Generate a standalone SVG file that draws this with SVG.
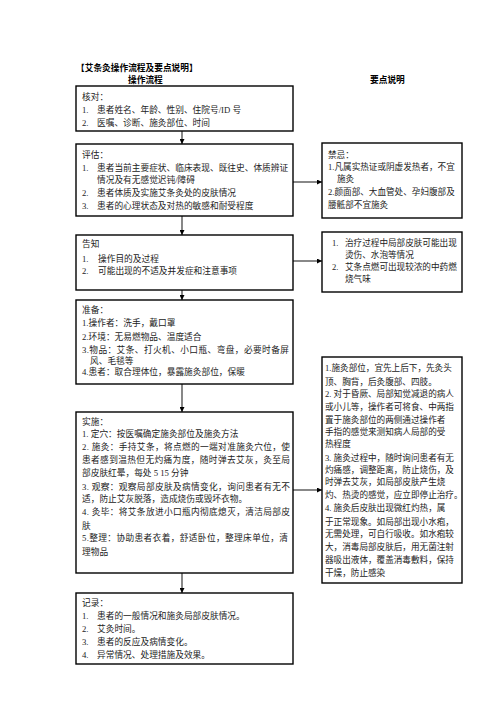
<svg xmlns="http://www.w3.org/2000/svg" width="496" height="702" viewBox="0 0 496 702">
<defs>
<style>
.t{font-family:"Liberation Serif","Noto Sans CJK SC",serif;font-size:8.7px;fill:#222}
.r{font-size:8.6px}
.b{font-weight:bold;fill:#000}
.box{fill:#fff;stroke:#000;stroke-width:1.4}
.c{stroke:#555;stroke-width:1.4;fill:none}
</style>
<marker id="ah" viewBox="0 0 6 6" refX="6" refY="3" markerWidth="5" markerHeight="5" orient="auto" markerUnits="userSpaceOnUse"><path d="M0,0 L6,3 L0,6 Z" fill="#000"/></marker>
</defs>
<rect width="496" height="702" fill="#fff"/>
<g id="header">
<text class="t b" x="76" y="71">【艾条灸操作流程及要点说明】</text>
<text class="t b" x="128" y="83">操作流程</text>
<text class="t b" x="370" y="83">要点说明</text>
</g>
<g id="connectors">
<line class="c" x1="182" y1="131" x2="182" y2="144" marker-end="url(#ah)"/>
<line class="c" x1="182" y1="216" x2="182" y2="235" marker-end="url(#ah)"/>
<line class="c" x1="182" y1="290" x2="182" y2="300" marker-end="url(#ah)"/>
<line class="c" x1="182" y1="384" x2="182" y2="412" marker-end="url(#ah)"/>
<line class="c" x1="182" y1="573" x2="182" y2="593" marker-end="url(#ah)"/>
<line class="c" x1="293" y1="182" x2="322" y2="182" marker-end="url(#ah)"/>
<line class="c" x1="293" y1="261" x2="322" y2="261" marker-end="url(#ah)"/>
<line class="c" x1="293" y1="490" x2="322" y2="490" marker-end="url(#ah)"/>
</g>
<g id="n1">
<rect class="box" x="76" y="86" width="217" height="45"/>
<text class="t" x="82" y="100">核对：</text>
<text class="t" x="82" y="113">1.</text><text class="t" x="97" y="113">患者姓名、年龄、性别、住院号/ID 号</text>
<text class="t" x="82" y="126">2.</text><text class="t" x="97" y="126">医嘱、诊断、施灸部位、时间</text>
</g>
<g id="n2">
<rect class="box" x="76" y="144" width="217" height="72"/>
<text class="t" x="82" y="158">评估：</text>
<text class="t" x="82" y="171">1.</text><text class="t" x="97" y="171">患者当前主要症状、临床表现、既往史、体质辨证</text>
<text class="t" x="97" y="183">情况及有无感觉迟钝/障碍</text>
<text class="t" x="82" y="196">2.</text><text class="t" x="97" y="196">患者体质及实施艾条灸处的皮肤情况</text>
<text class="t" x="82" y="209">3.</text><text class="t" x="97" y="209">患者的心理状态及对热的敏感和耐受程度</text>
</g>
<g id="r1">
<rect class="box" x="322" y="143" width="140" height="75"/>
<text class="t r" x="328" y="158">禁忌：</text>
<text class="t r" x="328" y="170">1.凡属实热证或阴虚发热者，不宜</text>
<text class="t r" x="337" y="182">施灸</text>
<text class="t r" x="328" y="195">2.颜面部、大血管处、孕妇腹部及</text>
<text class="t r" x="328" y="208">腰骶部不宜施灸</text>
</g>
<g id="n3">
<rect class="box" x="76" y="235" width="217" height="55"/>
<text class="t" x="82" y="247">告知</text>
<text class="t" x="82" y="262">1.</text><text class="t" x="98" y="262">操作目的及过程</text>
<text class="t" x="82" y="274">2.</text><text class="t" x="98" y="274">可能出现的不适及并发症和注意事项</text>
</g>
<g id="r2">
<rect class="box" x="322" y="232" width="140" height="60"/>
<text class="t r" x="332" y="246">1.</text><text class="t r" x="345" y="246">治疗过程中局部皮肤可能出现</text>
<text class="t r" x="345" y="258">烫伤、水泡等情况</text>
<text class="t r" x="332" y="270">2.</text><text class="t r" x="345" y="270">艾条点燃可出现较浓的中药燃</text>
<text class="t r" x="345" y="282">烧气味</text>
</g>
<g id="n4">
<rect class="box" x="76" y="300" width="217" height="84"/>
<text class="t" x="82" y="313">准备：</text>
<text class="t" x="82" y="326">1.操作者：洗手，戴口罩</text>
<text class="t" x="82" y="340">2.环境：无易燃物品、温度适合</text>
<text class="t" x="82" y="353" textLength="207" lengthAdjust="spacing">3.物品：艾条、打火机、小口瓶、弯盘，必要时备屏</text>
<text class="t" x="90" y="364">风、毛毯等</text>
<text class="t" x="82" y="375">4.患者：取合理体位，暴露施灸部位，保暖</text>
</g>
<g id="r3">
<rect class="box" x="322" y="357" width="140" height="226"/>
<text class="t r" x="325" y="371">1.施灸部位，宜先上后下，先灸头</text>
<text class="t r" x="325" y="385">顶、胸背，后灸腹部、四肢。</text>
<text class="t r" x="325" y="397">2. 对于昏厥、局部知觉减退的病人</text>
<text class="t r" x="325" y="410">或小儿等，操作者可将食、中两指</text>
<text class="t r" x="325" y="423">置于施灸部位的两侧通过操作者</text>
<text class="t r" x="325" y="435">手指的感觉来测知病人局部的受</text>
<text class="t r" x="325" y="447">热程度</text>
<text class="t r" x="325" y="461">3. 施灸过程中，随时询问患者有无</text>
<text class="t r" x="325" y="473">灼痛感，调整距离，防止烧伤，及</text>
<text class="t r" x="325" y="485">时弹去艾灰，如局部皮肤产生烧</text>
<text class="t r" x="325" y="498">灼、热烫的感觉，应立即停止治疗。</text>
<text class="t r" x="325" y="511">4. 施灸后皮肤出现微红灼热，属</text>
<text class="t r" x="325" y="525">于正常现象。如局部出现小水疱，</text>
<text class="t r" x="325" y="537">无需处理，可自行吸收。如水疱较</text>
<text class="t r" x="325" y="550">大，消毒局部皮肤后，用无菌注射</text>
<text class="t r" x="325" y="563">器吸出液体，覆盖消毒敷料，保持</text>
<text class="t r" x="325" y="576">干燥，防止感染</text>
</g>
<g id="n5">
<rect class="box" x="76" y="412" width="217" height="161"/>
<text class="t" x="82" y="425">实施：</text>
<text class="t" x="82" y="437">1. 定穴：按医嘱确定施灸部位及施灸方法</text>
<text class="t" x="82" y="450" textLength="208" lengthAdjust="spacing">2. 施灸：手持艾条，将点燃的一端对准施灸穴位，使</text>
<text class="t" x="82" y="463" textLength="208" lengthAdjust="spacing">患者感到温热但无灼痛为度，随时弹去艾灰，灸至局</text>
<text class="t" x="82" y="476">部皮肤红晕，每处 5 15 分钟</text>
<text class="t" x="82" y="490" textLength="208" lengthAdjust="spacing">3. 观察：观察局部皮肤及病情变化，询问患者有无不</text>
<text class="t" x="82" y="502">适，防止艾灰脱落，造成烧伤或毁坏衣物。</text>
<text class="t" x="82" y="515" textLength="208" lengthAdjust="spacing">4. 灸毕：将艾条放进小口瓶内彻底熄灭，清洁局部皮</text>
<text class="t" x="82" y="529">肤</text>
<text class="t" x="82" y="541" textLength="206" lengthAdjust="spacing">5.整理：协助患者衣着，舒适卧位，整理床单位，清</text>
<text class="t" x="82" y="555">理物品</text>
</g>
<g id="n6">
<rect class="box" x="76" y="593" width="217" height="71"/>
<text class="t" x="82" y="606">记录：</text>
<text class="t" x="82" y="619">1.</text><text class="t" x="97" y="619">患者的一般情况和施灸局部皮肤情况。</text>
<text class="t" x="82" y="632">2.</text><text class="t" x="97" y="632">艾灸时间。</text>
<text class="t" x="82" y="645">3.</text><text class="t" x="97" y="645">患者的反应及病情变化。</text>
<text class="t" x="82" y="658">4.</text><text class="t" x="97" y="658">异常情况、处理措施及效果。</text>
</g>
</svg>
